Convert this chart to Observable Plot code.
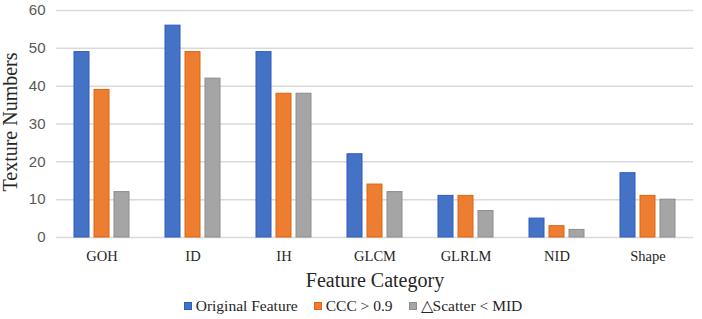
<!DOCTYPE html>
<html>
<head>
<meta charset="utf-8">
<script src="https://cdn.jsdelivr.net/npm/d3@7"></script>
<script src="https://cdn.jsdelivr.net/npm/@observablehq/plot@0.6"></script>
<style>
  html, body { margin: 0; padding: 0; background: #fff; }
  #wrap { position: relative; width: 702px; height: 319px; overflow: hidden; }
  .ttl { position: absolute; font-family: "Liberation Serif", "Times New Roman", serif; color: #262626; white-space: nowrap; }
  #ytitle { font-size: 20px; left: 10px; top: 122px; transform: translate(-50%, -50%) rotate(-90deg); }
  #xtitle { font-size: 20px; left: 375px; top: 280px; transform: translate(-50%, -50%); }
  #legend { position: absolute; top: 297px; left: 0; width: 702px; display: flex; justify-content: center; align-items: center;
            font-family: "Liberation Serif", "Times New Roman", serif; font-size: 15.5px; color: #262626; padding-left: 4px; box-sizing: border-box; }
  .item { display: flex; align-items: center; margin: 0 8px; }
  .sw { width: 8px; height: 8px; margin-right: 4px; box-sizing: border-box; }
</style>
</head>
<body>
<div id="wrap">
  <div id="chart"></div>
  <div class="ttl" id="ytitle">Texture Numbers</div>
  <div class="ttl" id="xtitle">Feature Category</div>
  <div id="legend"></div>
</div>
<script>
const categories = ["GOH", "ID", "IH", "GLCM", "GLRLM", "NID", "Shape"];
const series = ["Original Feature", "CCC > 0.9", "\u25B3Scatter < MID"];
const originalFeature = [49, 56, 49, 22, 11, 5, 17];
const cccOver09 = [39, 49, 38, 14, 11, 3, 11];
const scatterUnderMID = [12, 42, 38, 12, 7, 2, 10];
const yTicks = [0, 10, 20, 30, 40, 50, 60];

const fills = ["#4472C4", "#ED7D31", "#A5A5A5"];
const strokes = ["#2F5BC0", "#E0650F", "#8E8E8E"];
const seriesValues = [originalFeature, cccOver09, scatterUnderMID];

const data = [];
series.forEach((s, si) => {
  categories.forEach((c, ci) => data.push({cat: c, series: s, value: seriesValues[si][ci]}));
});

const chart = Plot.plot({
  width: 702,
  height: 293,
  marginTop: 10,
  marginBottom: 56,
  marginLeft: 54,
  marginRight: 7,
  fx: {domain: categories, padding: 0, label: null, axis: null},
  x: {domain: series, paddingInner: 0.244, paddingOuter: 0.855, axis: null},
  y: {domain: [0, 60], label: null},
  marks: [
    Plot.gridY(yTicks, {stroke: "#d9d9d9", strokeOpacity: 1, strokeWidth: 1.5}),
    Plot.axisY(yTicks, {tickSize: 0, tickPadding: 11, fontSize: 15, fontFamily: "Liberation Sans, Arial, sans-serif", fill: "#595959", label: null}),
    Plot.axisFx({anchor: "bottom", tickSize: 0, tickPadding: 13, fontSize: 14.5, fontFamily: "Liberation Serif, Times New Roman, serif", fill: "#262626", label: null}),
    ...series.map((s, si) => Plot.barY(data.filter(d => d.series === s), {
      fx: "cat", x: "series", y: "value",
      fill: fills[si], stroke: strokes[si], strokeWidth: 1
    }))
  ]
});
document.getElementById("chart").appendChild(chart);

const legend = document.getElementById("legend");
series.forEach((s, si) => {
  const it = document.createElement("div");
  it.className = "item";
  const sw = document.createElement("div");
  sw.className = "sw";
  sw.style.background = fills[si];
  sw.style.border = "1px solid " + strokes[si];
  const tx = document.createElement("span");
  tx.textContent = s;
  it.appendChild(sw);
  it.appendChild(tx);
  legend.appendChild(it);
});
</script>
</body>
</html>
